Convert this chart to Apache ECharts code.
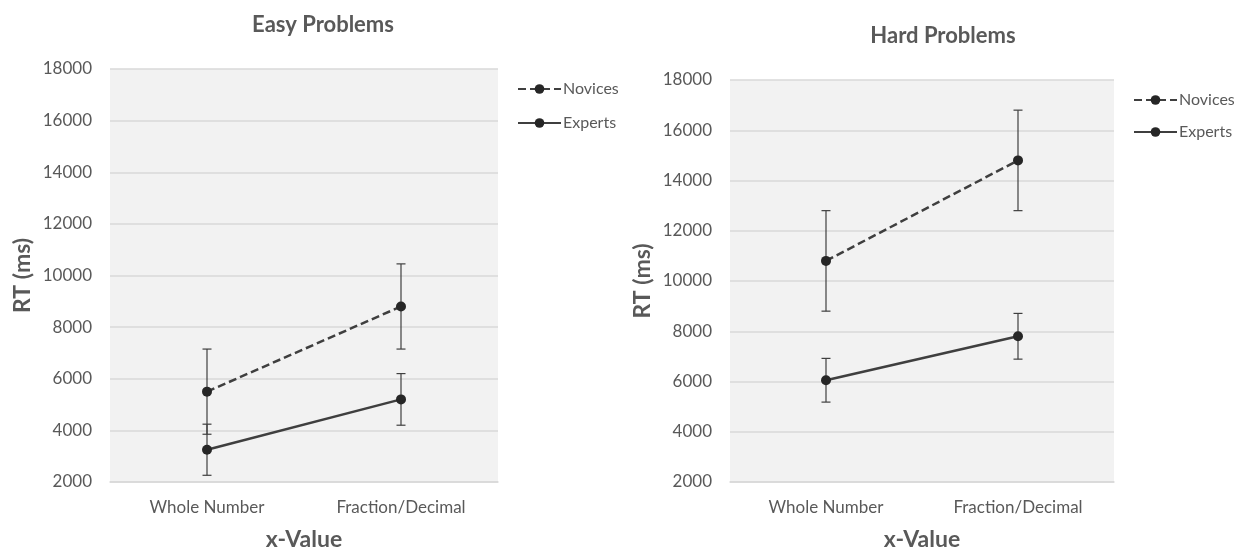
<!DOCTYPE html>
<html>
<head>
<meta charset="utf-8">
<title>RT by x-Value</title>
<script src="https://cdn.jsdelivr.net/npm/echarts@6/dist/echarts.min.js"></script>
<style>
  html, body { margin: 0; padding: 0; background: #ffffff; }
  #chart { width: 1245px; height: 556px; }
</style>
</head>
<body>
<div id="chart"></div>
<script>
// Categories and series values
const categories = ['Whole Number', 'Fraction/Decimal'];
const seriesNames = ['Novices', 'Experts'];
const yTicks = { min: 2000, max: 18000, step: 2000 };

// Easy problems: mean RT and error (±) per category
const easyNovices = [5500, 8800];
const easyNovicesErr = [1650, 1650];
const easyExperts = [3250, 5200];
const easyExpertsErr = [990, 1000];

// Hard problems: mean RT and error (±) per category
const hardNovices = [10800, 14800];
const hardNovicesErr = [2000, 2000];
const hardExperts = [6050, 7800];
const hardExpertsErr = [870, 910];

const FONT = 'Lato, "Open Sans", sans-serif';
const TEXT = '#595959';
const LINE = '#3f3f3f';
const GRID_LINE = '#d9d9d9';

function errorData(means, errs) {
  return means.map((m, i) => [i, m - errs[i], m + errs[i]]);
}

function renderErrorBar(params, api) {
  const x = api.value(0);
  const lo = api.coord([x, api.value(1)]);
  const hi = api.coord([x, api.value(2)]);
  const half = 4.5;
  const style = { stroke: LINE, lineWidth: 1.2, fill: null };
  return {
    type: 'group',
    children: [
      { type: 'line', shape: { x1: lo[0], y1: lo[1], x2: hi[0], y2: hi[1] }, style },
      { type: 'line', shape: { x1: lo[0] - half, y1: lo[1], x2: lo[0] + half, y2: lo[1] }, style },
      { type: 'line', shape: { x1: hi[0] - half, y1: hi[1], x2: hi[0] + half, y2: hi[1] }, style }
    ]
  };
}

function xAxis(gridIndex) {
  return {
    type: 'category',
    gridIndex,
    data: categories,
    boundaryGap: true,
    axisLine: { lineStyle: { color: GRID_LINE, width: 1.5 } },
    axisTick: { show: false },
    axisLabel: { color: TEXT, fontFamily: FONT, fontSize: 17, margin: 17 },
    name: 'x-Value',
    nameLocation: 'middle',
    nameGap: 46,
    nameTextStyle: { color: TEXT, fontFamily: FONT, fontSize: 23, fontWeight: 'bold' }
  };
}

function yAxis(gridIndex) {
  return {
    type: 'value',
    gridIndex,
    min: yTicks.min,
    max: yTicks.max,
    interval: yTicks.step,
    axisLine: { show: false },
    axisTick: { show: false },
    splitLine: { lineStyle: { color: GRID_LINE, width: 1.5 } },
    axisLabel: {
      color: TEXT, fontFamily: FONT, fontSize: 17, margin: 18,
      formatter: (v) => String(v)
    },
    name: 'RT (ms)',
    nameLocation: 'middle',
    nameRotate: 90,
    nameGap: 76,
    nameTextStyle: { color: TEXT, fontFamily: FONT, fontSize: 23, fontWeight: 'bold' }
  };
}

function lineSeries(name, data, idx, dashed) {
  return {
    name,
    type: 'line',
    xAxisIndex: idx,
    yAxisIndex: idx,
    data,
    symbol: 'circle',
    symbolSize: 10,
    itemStyle: { color: '#262626' },
    lineStyle: { color: LINE, width: 2.5, type: dashed ? [8, 4] : 'solid' },
    z: 3,
    animation: false
  };
}

function errorSeries(means, errs, idx) {
  return {
    type: 'custom',
    xAxisIndex: idx,
    yAxisIndex: idx,
    data: errorData(means, errs),
    encode: { x: 0, y: [1, 2] },
    renderItem: renderErrorBar,
    z: 2,
    silent: true,
    animation: false
  };
}

function legend(left, top, gap) {
  return {
    orient: 'vertical',
    left,
    top,
    data: seriesNames,
    itemWidth: 43,
    itemHeight: 12,
    itemGap: gap,
    textStyle: { color: TEXT, fontFamily: FONT, fontSize: 16, padding: [0, 0, 0, -3] },
    selectedMode: false
  };
}

const chart = echarts.init(document.getElementById('chart'), null, { renderer: 'canvas' });

chart.setOption({
  backgroundColor: '#ffffff',
  animation: false,
  title: [
    {
      text: 'Easy Problems',
      left: 318, top: 9, textAlign: 'center',
      textStyle: { color: TEXT, fontFamily: FONT, fontSize: 22, fontWeight: 'bold' }
    },
    {
      text: 'Hard Problems',
      left: 938, top: 20, textAlign: 'center',
      textStyle: { color: TEXT, fontFamily: FONT, fontSize: 22, fontWeight: 'bold' }
    }
  ],
  legend: [legend(512, 76, 18), legend(1128, 87, 16)],
  grid: [
    { left: 110, top: 69, width: 388, height: 415, show: true, backgroundColor: '#f2f2f2', borderWidth: 0 },
    { left: 730, top: 80, width: 384, height: 406, show: true, backgroundColor: '#f2f2f2', borderWidth: 0 }
  ],
  xAxis: [xAxis(0), xAxis(1)],
  yAxis: [yAxis(0), yAxis(1)],
  series: [
    errorSeries(easyNovices, easyNovicesErr, 0),
    errorSeries(easyExperts, easyExpertsErr, 0),
    lineSeries('Novices', easyNovices, 0, true),
    lineSeries('Experts', easyExperts, 0, false),
    errorSeries(hardNovices, hardNovicesErr, 1),
    errorSeries(hardExperts, hardExpertsErr, 1),
    lineSeries('Novices', hardNovices, 1, true),
    lineSeries('Experts', hardExperts, 1, false)
  ]
});
</script>
</body>
</html>
